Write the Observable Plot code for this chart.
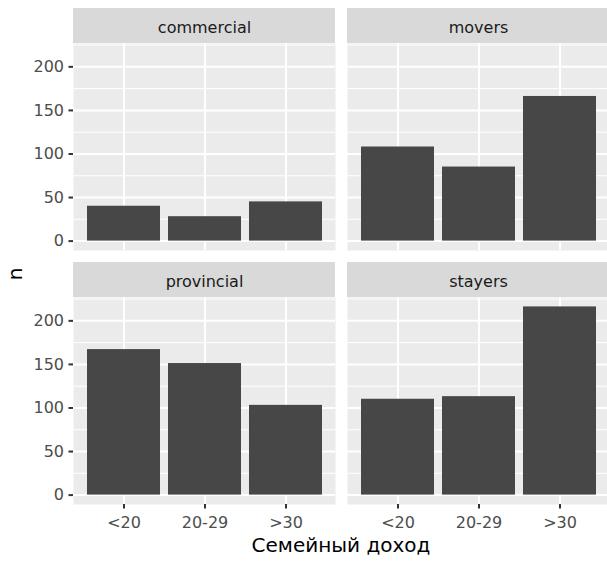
<!DOCTYPE html>
<html>
<head>
<meta charset="utf-8">
<script src="https://cdn.jsdelivr.net/npm/d3@7"></script>
<script src="https://cdn.jsdelivr.net/npm/@observablehq/plot@0.6"></script>
<style>
  html, body { margin: 0; padding: 0; background: #ffffff; }
  #wrap { position: relative; width: 607px; height: 561px; overflow: hidden; font-family: "DejaVu Sans", sans-serif; }
  #wrap svg { position: absolute; left: 0; top: 0; }
  .xtitle { position: absolute; left: 73px; width: 536px; top: 535px; height: 20px; line-height: 20px; font-size: 20px; text-align: center; color: #000; }
  .ytitle { position: absolute; left: -35px; top: 264px; width: 100px; height: 20px; line-height: 20px; font-size: 20px; text-align: center; color: #000; transform: rotate(-90deg); transform-origin: 50% 50%; }
</style>
</head>
<body>
<div id="wrap"></div>
<script>
// ---- data ----
const regions = ["commercial", "movers", "provincial", "stayers"];
const incomes = ["<20", "20-29", ">30"];
const commercial = [40, 28, 45];
const movers = [108, 85, 166];
const provincial = [167, 151, 103];
const stayers = [110, 113, 216];
const yTicks = [0, 50, 100, 150, 200];
const yMinor = [25, 75, 125, 175, 225];
const facetCol = [0, 1, 0, 1];
const facetRow = [0, 0, 1, 1];
const xTitle = "Семейный доход";
const yTitle = "n";

const series = {commercial, movers, provincial, stayers};
const table = [];
regions.forEach((r, k) => {
  series[r].forEach((v, i) => table.push({region: r, income: incomes[i], n: v, col: facetCol[k], row: facetRow[k]}));
});
const strips = regions.map((r, k) => ({region: r, col: facetCol[k], row: facetRow[k]}));

const maxN = d3.max(table, d => d.n);
const pad = maxN * 0.05;
const yDomain = [-pad, maxN + pad];
const yTop = yDomain[1];

const chart = Plot.plot({
  width: 607,
  height: 561,
  marginLeft: 73,
  marginRight: -2,
  marginTop: 43,
  marginBottom: 56,
  style: {fontFamily: "DejaVu Sans", background: "transparent", overflow: "visible"},
  fx: {axis: null, paddingInner: 12 / 274, paddingOuter: 0},
  fy: {axis: null, paddingInner: 47 / 254.5, paddingOuter: 0},
  x: {domain: incomes, paddingInner: 0.1, paddingOuter: 0.15, label: null},
  y: {domain: yDomain, label: null, nice: false},
  marks: [
    Plot.frame({fill: "#ebebeb", stroke: null}),
    Plot.rect(strips, {fx: "col", fy: "row", y1: yTop, y2: yTop, insetTop: -35, insetBottom: 0, fill: "#d9d9d9"}),
    Plot.text(strips, {fx: "col", fy: "row", text: "region", frameAnchor: "top", lineAnchor: "middle", dy: -15.5, fontSize: 16, fill: "#1a1a1a"}),
    Plot.gridY(yMinor, {stroke: "#ffffff", strokeOpacity: 1, strokeWidth: 1}),
    Plot.gridY(yTicks, {stroke: "#ffffff", strokeOpacity: 1, strokeWidth: 2}),
    Plot.gridX(incomes, {stroke: "#ffffff", strokeOpacity: 1, strokeWidth: 2}),
    Plot.barY(table, {fx: "col", fy: "row", x: "income", y: "n", fill: "#474747"}),
    Plot.axisY(yTicks, {tickSize: 4.5, tickPadding: 5, fontSize: 16, stroke: "#333333", fill: "#4d4d4d", strokeWidth: 2, label: null}),
    Plot.axisX({tickSize: 4.5, tickPadding: 8, fontSize: 16, stroke: "#333333", fill: "#4d4d4d", strokeWidth: 2, label: null})
  ]
});

const wrap = document.getElementById("wrap");
wrap.appendChild(chart);
const xt = document.createElement("div");
xt.className = "xtitle";
xt.textContent = xTitle;
wrap.appendChild(xt);
const yt = document.createElement("div");
yt.className = "ytitle";
yt.textContent = yTitle;
wrap.appendChild(yt);
</script>
</body>
</html>
